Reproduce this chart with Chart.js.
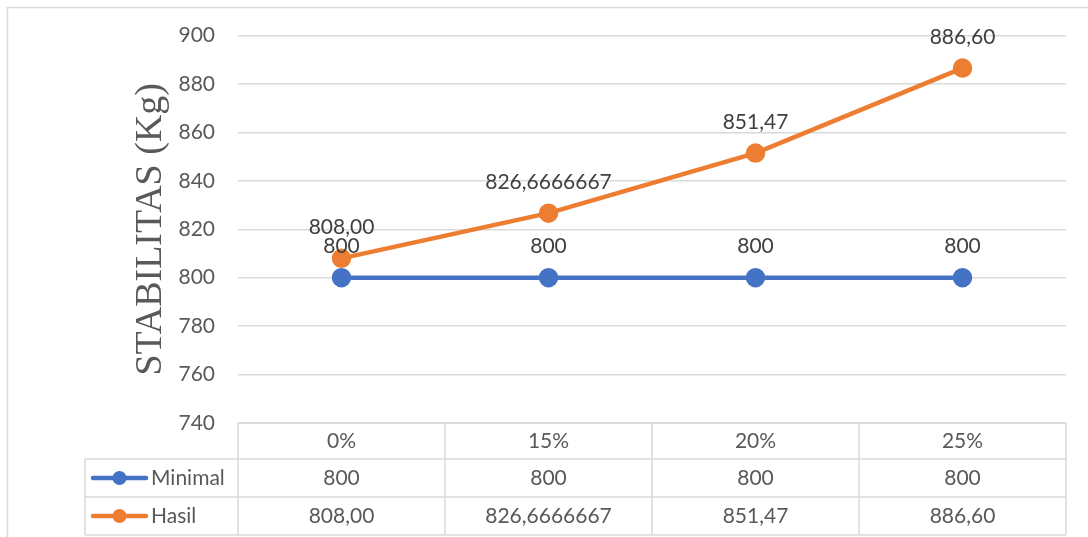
<!DOCTYPE html>
<html>
<head>
<meta charset="utf-8">
<script src="https://cdn.jsdelivr.net/npm/chart.js@4.4.1/dist/chart.umd.min.js"></script>
<style>
  html, body { margin: 0; padding: 0; background: #fff; }
  #wrap { width: 1088px; height: 537px; }
</style>
</head>
<body>
<div id="wrap"><canvas id="stabChart" width="1088" height="537"></canvas></div>
<script>
const categories = ['0%', '15%', '20%', '25%'];
const minimalValues = [800, 800, 800, 800];
const hasilValues = [808, 826.6666667, 851.47, 886.6];
// decimals shown for each point's label
const minimalDecimals = [0, 0, 0, 0];
const hasilDecimals = [2, 7, 2, 2];
const yTicks = [740, 760, 780, 800, 820, 840, 860, 880, 900];

const BLUE = '#4472C4';
const ORANGE = '#ED7D31';
const GRID = '#d9d9d9';
const TEXT = '#595959';
const FONT = 'Lato, "Liberation Sans", sans-serif';

function fmt(v, d) {
  return v.toFixed(d).replace('.', ',');
}

// frame around the whole chart
const framePlugin = {
  id: 'frame',
  beforeDraw(chart) {
    const ctx = chart.ctx;
    ctx.save();
    ctx.strokeStyle = GRID;
    ctx.lineWidth = 1.5;
    ctx.strokeRect(7.5, 7.5, 1100, 560);
    ctx.restore();
  }
};

// value labels above each point
const pointLabels = {
  id: 'pointLabels',
  afterDatasetsDraw(chart) {
    const ctx = chart.ctx;
    ctx.save();
    ctx.font = '21px ' + FONT;
    ctx.fillStyle = '#404040';
    ctx.textAlign = 'center';
    ctx.textBaseline = 'middle';
    chart.data.datasets.forEach((ds, i) => {
      chart.getDatasetMeta(i).data.forEach((pt, j) => {
        ctx.fillText(fmt(ds.data[j], ds.decimals[j]), pt.x, pt.y - 31);
      });
    });
    ctx.restore();
  }
};

// data table under the x axis
const dataTable = {
  id: 'dataTable',
  afterDraw(chart) {
    const ctx = chart.ctx;
    const x = chart.scales.x;
    const area = chart.chartArea;
    const left = area.left, right = area.right;
    const keyLeft = 85;
    const rows = [area.bottom, area.bottom + 36, area.bottom + 74, area.bottom + 112];
    const step = (right - left) / categories.length;

    ctx.save();
    ctx.strokeStyle = GRID;
    ctx.lineWidth = 1.5;
    ctx.beginPath();
    ctx.moveTo(left, rows[0]); ctx.lineTo(right, rows[0]);
    for (let r = 1; r < rows.length; r++) {
      ctx.moveTo(keyLeft, rows[r]); ctx.lineTo(right, rows[r]);
    }
    ctx.moveTo(keyLeft, rows[1]); ctx.lineTo(keyLeft, rows[3]);
    for (let c = 0; c <= categories.length; c++) {
      const cx = left + c * step;
      ctx.moveTo(cx, rows[0]); ctx.lineTo(cx, rows[3]);
    }
    ctx.stroke();

    ctx.font = '21px ' + FONT;
    ctx.textBaseline = 'middle';
    chart.data.datasets.forEach((ds, i) => {
      const cy = (rows[i + 1] + rows[i + 2]) / 2;
      // legend key
      ctx.strokeStyle = ds.borderColor;
      ctx.lineWidth = 4.5;
      ctx.lineCap = 'round';
      ctx.beginPath();
      ctx.moveTo(93, cy); ctx.lineTo(146, cy);
      ctx.stroke();
      ctx.fillStyle = ds.borderColor;
      ctx.beginPath();
      ctx.arc(119.5, cy, 7, 0, Math.PI * 2);
      ctx.fill();
      ctx.fillStyle = TEXT;
      ctx.textAlign = 'left';
      ctx.fillText(ds.label, 151, cy);
      // values
      ctx.textAlign = 'center';
      ds.data.forEach((v, j) => {
        ctx.fillText(fmt(v, ds.decimals[j]), x.getPixelForValue(j), cy);
      });
    });
    ctx.restore();
  }
};

new Chart(document.getElementById('stabChart'), {
  type: 'line',
  data: {
    labels: categories,
    datasets: [
      {
        label: 'Minimal',
        data: minimalValues,
        decimals: minimalDecimals,
        borderColor: BLUE,
        backgroundColor: BLUE,
        borderWidth: 4.5,
        pointRadius: 7.5,
        pointHoverRadius: 7.5,
        tension: 0
      },
      {
        label: 'Hasil',
        data: hasilValues,
        decimals: hasilDecimals,
        borderColor: ORANGE,
        backgroundColor: ORANGE,
        borderWidth: 4.5,
        pointRadius: 7.5,
        pointHoverRadius: 7.5,
        tension: 0
      }
    ]
  },
  options: {
    responsive: false,
    animation: false,
    layout: { padding: { top: 35, right: 22, left: 0, bottom: 0 } },
    plugins: {
      legend: { display: false },
      tooltip: { enabled: false }
    },
    scales: {
      x: {
        offset: true,
        grid: { display: false, drawTicks: false },
        border: { display: false },
        ticks: { color: TEXT, font: { family: FONT, size: 21 }, padding: 6 },
        afterFit(scale) { scale.height = 114; }
      },
      y: {
        min: yTicks[0],
        max: yTicks[yTicks.length - 1],
        afterBuildTicks(scale) { scale.ticks = yTicks.map(v => ({ value: v })); },
        grid: { color: GRID, lineWidth: 1.5, drawTicks: false },
        border: { display: false },
        ticks: { color: TEXT, font: { family: FONT, size: 21 }, padding: 23 },
        title: {
          display: true,
          text: 'STABILITAS (Kg)',
          color: TEXT,
          font: { family: '"Liberation Serif", "Times New Roman", serif', size: 38 },
          padding: { top: 128, bottom: 0 }
        },
        afterFit(scale) { scale.width = 238; }
      }
    }
  },
  plugins: [framePlugin, pointLabels, dataTable]
});
</script>
</body>
</html>
